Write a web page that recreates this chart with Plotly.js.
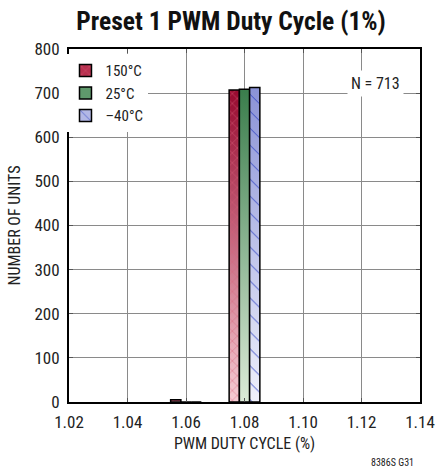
<!DOCTYPE html>
<html>
<head>
<meta charset="utf-8">
<script src="https://cdn.plot.ly/plotly-3.0.1.min.js"></script>
<style>
html,body{margin:0;padding:0;background:#fff;}
#chart{width:436px;height:471px;}
</style>
</head>
<body>
<div id="chart"></div>
<script>
// ---- data ----
var seriesNames = ['150°C', '25°C', '–40°C'];
var binCenters = [1.06, 1.08];
var counts150 = [5, 707];
var counts25 = [0, 709];
var countsMinus40 = [0, 713];
var xTickVals = [1.02, 1.04, 1.06, 1.08, 1.10, 1.12, 1.14];
var yTickVals = [0, 100, 200, 300, 400, 500, 600, 700, 800];
var noteText = 'N = 713';
var titleText = 'Preset 1 PWM Duty Cycle (1%)';
var xTitle = 'PWM DUTY CYCLE (%)';
var yTitle = 'NUMBER OF UNITS';
var footText = '8386S G31';

// ---- styles ----
var FONT = '"Roboto Condensed", "Open Sans Condensed", sans-serif';
var midColors = ['#b8304f', '#5f9a6c', '#b3b8e6'];
var gradients = [
  ['#98092f', '#f6ccd4'],
  ['#3a7d4c', '#dcebd8'],
  ['#8a92d6', '#f0f1fb']
];
var patterns = [
  {shape: 'x', fgcolor: '#d7607a', bgcolor: '#b8304f', fillmode: 'replace', size: 7, solidity: 0.12},
  null,
  {shape: '\\', fgcolor: '#3346c4', bgcolor: '#b3b8e6', fillmode: 'replace', size: 12, solidity: 0.08}
];
var seriesCounts = [counts150, counts25, countsMinus40];

var data = seriesNames.map(function (name, i) {
  var marker = {color: midColors[i], line: {color: '#000', width: 1.5}};
  if (patterns[i]) marker.pattern = patterns[i];
  return {type: 'bar', name: name, x: binCenters, y: seriesCounts[i], marker: marker};
});

var layout = {
  width: 436, height: 471,
  margin: {l: 69, r: 16, t: 49, b: 69},
  paper_bgcolor: '#fff', plot_bgcolor: '#fff',
  font: {family: FONT, size: 15, color: '#222'},
  title: {text: '<b>' + titleText + '</b>', font: {family: FONT, size: 25.5, color: '#111'}, x: 0.53, xanchor: 'center', y: 0.975, yanchor: 'top'},
  barmode: 'group', bargap: 0.475, bargroupgap: 0,
  showlegend: true,
  legend: {x: -0.01, y: 0.985, xanchor: 'left', yanchor: 'top', bgcolor: '#fff', borderwidth: 0,
    font: {family: FONT, size: 15, color: '#222'}, traceorder: 'normal', itemwidth: 30, tracegroupgap: 0},
  xaxis: {range: [1.02, 1.14], tickvals: xTickVals, ticktext: xTickVals.map(function (v) { return v.toFixed(2); }),
    showgrid: true, gridcolor: '#8a8a8a', gridwidth: 1, zeroline: false,
    showline: true, linecolor: '#000', linewidth: 2, mirror: 'allticks',
    ticks: 'inside', ticklen: 4, tickcolor: '#555', ticklabelstandoff: 4,
    tickfont: {family: FONT, size: 17, color: '#222'},
    title: {text: xTitle, font: {family: FONT, size: 16, color: '#222'}, standoff: 6}},
  yaxis: {range: [0, 800], tickvals: yTickVals,
    showgrid: true, gridcolor: '#8a8a8a', gridwidth: 1, zeroline: false,
    showline: true, linecolor: '#000', linewidth: 2, mirror: 'allticks',
    ticks: 'inside', ticklen: 4, tickcolor: '#555', ticklabelstandoff: 4,
    tickfont: {family: FONT, size: 17, color: '#222'},
    title: {text: yTitle, font: {family: FONT, size: 16, color: '#222'}, standoff: 10}},
  annotations: [
    {text: noteText, xref: 'paper', yref: 'paper', x: 0.955, y: 0.94, xanchor: 'right', yanchor: 'top',
      showarrow: false, bgcolor: '#fff', font: {family: FONT, size: 16, color: '#222'}, borderpad: 3},
    {text: footText, xref: 'paper', yref: 'paper', x: 0.99, y: -0.17, xanchor: 'right', yanchor: 'middle',
      showarrow: false, font: {family: FONT, size: 10, color: '#222'}}
  ]
};

var gd = document.getElementById('chart');
Plotly.newPlot(gd, data, layout, {staticPlot: true, displayModeBar: false}).then(function () {
  var NS = 'http://www.w3.org/2000/svg';
  var svg = gd.querySelector('svg.main-svg');
  var defs = document.createElementNS(NS, 'defs');
  svg.insertBefore(defs, svg.firstChild);
  gradients.forEach(function (g, i) {
    var lg = document.createElementNS(NS, 'linearGradient');
    lg.setAttribute('id', 'barGrad' + i);
    lg.setAttribute('x1', '0'); lg.setAttribute('y1', '0');
    lg.setAttribute('x2', '0'); lg.setAttribute('y2', '1');
    [['0', g[0]], ['1', g[1]]].forEach(function (s) {
      var st = document.createElementNS(NS, 'stop');
      st.setAttribute('offset', s[0]);
      st.setAttribute('stop-color', s[1]);
      lg.appendChild(st);
    });
    defs.appendChild(lg);
  });
  var copied = {};
  gd.querySelectorAll('.barlayer .trace').forEach(function (t, i) {
    t.querySelectorAll('.point path').forEach(function (p) {
      var fill = p.style.fill || '';
      var m = fill.match(/#([^"')]+)/);
      if (fill.indexOf('url') >= 0 && m) {
        var newId = 'barPat' + i;
        if (!copied[newId]) {
          var pat = document.getElementById(m[1]);
          if (pat) {
            var cp = pat.cloneNode(true);
            cp.setAttribute('id', newId);
            cp.querySelectorAll('rect').forEach(function (r) { r.style.fillOpacity = '0'; r.setAttribute('fill-opacity', '0'); });
            defs.appendChild(cp);
            copied[newId] = true;
          }
        }
        var c = p.cloneNode(false);
        c.removeAttribute('class');
        c.style.fill = 'url(#barGrad' + i + ')';
        c.style.fillOpacity = '1';
        c.style.stroke = 'none';
        p.parentNode.insertBefore(c, p);
        if (copied[newId]) p.style.fill = 'url(#' + newId + ')';
      } else {
        p.style.fill = 'url(#barGrad' + i + ')';
      }
    });
  });
  setTimeout(function () {}, 300);
});
</script>
</body>
</html>
